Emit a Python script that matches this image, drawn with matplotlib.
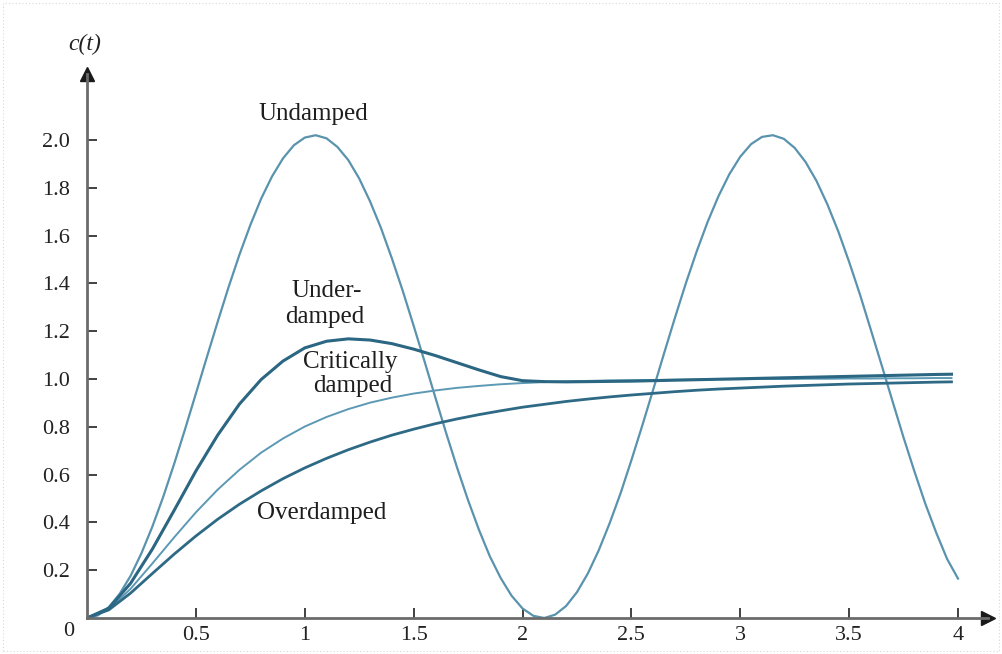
import numpy as np
import matplotlib
matplotlib.use("Agg")
import matplotlib.pyplot as plt
from matplotlib.patches import Rectangle

plt.rcParams["font.family"] = ["Liberation Serif", "DejaVu Serif"]

# time samples (s) for the damped curves
t = [0.0, 0.1, 0.2, 0.3, 0.4, 0.5, 0.6, 0.7, 0.8, 0.9,
     1.0, 1.1, 1.2, 1.3, 1.4, 1.5, 1.6, 1.7, 1.8, 1.9,
     2.0, 2.1, 2.2, 2.3, 2.4, 2.5, 2.6, 2.7, 2.8, 2.9,
     3.0, 3.1, 3.2, 3.3, 3.4, 3.5, 3.6, 3.7, 3.8, 3.9, 3.97]

# finer time samples for the undamped oscillation
t_fine = [0.0, 0.05, 0.1, 0.15, 0.2, 0.25, 0.3, 0.35, 0.4, 0.45,
          0.5, 0.55, 0.6, 0.65, 0.7, 0.75, 0.8, 0.85, 0.9, 0.95,
          1.0, 1.05, 1.1, 1.15, 1.2, 1.25, 1.3, 1.35, 1.4, 1.45,
          1.5, 1.55, 1.6, 1.65, 1.7, 1.75, 1.8, 1.85, 1.9, 1.95,
          2.0, 2.05, 2.1, 2.15, 2.2, 2.25, 2.3, 2.35, 2.4, 2.45,
          2.5, 2.55, 2.6, 2.65, 2.7, 2.75, 2.8, 2.85, 2.9, 2.95,
          3.0, 3.05, 3.1, 3.15, 3.2, 3.25, 3.3, 3.35, 3.4, 3.45,
          3.5, 3.55, 3.6, 3.65, 3.7, 3.75, 3.8, 3.85, 3.9, 3.95, 4.0]

undamped = [0.0, 0.011, 0.045, 0.101, 0.176, 0.271, 0.382, 0.507, 0.644, 0.789,
            0.939, 1.090, 1.239, 1.384, 1.520, 1.644, 1.755, 1.848, 1.923, 1.978,
            2.010, 2.020, 2.007, 1.971, 1.916, 1.839, 1.743, 1.632, 1.505, 1.369,
            1.223, 1.074, 0.922, 0.772, 0.628, 0.493, 0.369, 0.258, 0.167, 0.093,
            0.040, 0.009, 0.000, 0.014, 0.050, 0.108, 0.186, 0.283, 0.396, 0.521,
            0.660, 0.805, 0.955, 1.107, 1.256, 1.400, 1.534, 1.657, 1.765, 1.857,
            1.930, 1.983, 2.013, 2.020, 2.005, 1.967, 1.908, 1.829, 1.731, 1.618,
            1.490, 1.353, 1.205, 1.056, 0.905, 0.755, 0.613, 0.478, 0.357, 0.247, 0.165]

underdamped = [0.0, 0.041, 0.145, 0.288, 0.450, 0.615, 0.765, 0.895, 0.998, 1.075,
               1.130, 1.158, 1.168, 1.163, 1.148, 1.125, 1.098, 1.068, 1.038, 1.010,
               0.993, 0.989, 0.988, 0.989, 0.990, 0.991, 0.993, 0.995, 0.997, 0.999,
               1.001, 1.003, 1.005, 1.007, 1.009, 1.011, 1.013, 1.015, 1.017, 1.019, 1.020]

critically = [0.0, 0.037, 0.122, 0.228, 0.337, 0.442, 0.537, 0.620, 0.692, 0.751,
              0.801, 0.841, 0.874, 0.901, 0.922, 0.939, 0.952, 0.963, 0.971, 0.978,
              0.983, 0.987, 0.990, 0.992, 0.994, 0.995, 0.996, 0.997, 0.998, 0.999,
              0.999, 1.000, 1.000, 1.001, 1.001, 1.002, 1.002, 1.003, 1.003, 1.004, 1.004]

overdamped = [0.0, 0.034, 0.104, 0.186, 0.267, 0.343, 0.413, 0.476, 0.532, 0.583,
              0.628, 0.668, 0.704, 0.736, 0.765, 0.790, 0.813, 0.833, 0.851, 0.867,
              0.882, 0.894, 0.906, 0.916, 0.925, 0.933, 0.940, 0.947, 0.953, 0.958,
              0.962, 0.966, 0.970, 0.973, 0.976, 0.979, 0.981, 0.983, 0.985, 0.987, 0.988]

x_ticks = [0.5, 1, 1.5, 2, 2.5, 3, 3.5, 4]
x_labels = ["0.5", "1", "1.5", "2", "2.5", "3", "3.5", "4"]
y_ticks = [0.2, 0.4, 0.6, 0.8, 1.0, 1.2, 1.4, 1.6, 1.8, 2.0]
y_labels = ["0.2", "0.4", "0.6", "0.8", "1.0", "1.2", "1.4", "1.6", "1.8", "2.0"]

fig = plt.figure(figsize=(10.02, 6.54), dpi=100)
# 217.75 px per unit in x, 239 px per unit in y; origin at pixel (87, 618)
ax = fig.add_axes([87 / 1002, 36 / 654, 901 / 1002, 544 / 654])
ax.set_xlim(0, 901 / 217.75)
ax.set_ylim(0, 544 / 239)

ax.plot(t_fine, undamped, color="#5a93ad", lw=1.6)
ax.plot(t, critically, color="#5c99b4", lw=1.4)
ax.plot(t, overdamped, color="#2e6a86", lw=2.0)
ax.plot(t, underdamped, color="#2b6682", lw=2.2)

axis_col = "#6b6b6b"
for s in ["top", "right"]:
    ax.spines[s].set_visible(False)
for s in ["left", "bottom"]:
    ax.spines[s].set_color(axis_col)
    ax.spines[s].set_linewidth(2.0)
ax.plot(1, 0, ">", color="#1a1a1a", ms=10, transform=ax.get_yaxis_transform(), clip_on=False)
ax.plot(0, 1, "^", color="#1a1a1a", ms=10, transform=ax.get_xaxis_transform(), clip_on=False)

ax.set_xticks(x_ticks)
ax.set_xticklabels(x_labels)
ax.set_yticks(y_ticks)
ax.set_yticklabels(y_labels)
ax.tick_params(direction="in", length=7, width=1.3, color="#333333",
               labelsize=16, labelcolor="#222222")
ax.tick_params(axis="x", pad=6)
ax.tick_params(axis="y", pad=12)

txt = dict(fontsize=18, color="#1e1e1e", ha="center", va="center")
ax.text(-0.085, -0.055, "0", fontsize=16, color="#222222", ha="center", va="center", clip_on=False)
ax.text(-0.01, 2.40, "c(t)", fontsize=17, style="italic", color="#222222",
        ha="center", va="center", clip_on=False)
ax.text(1.04, 2.11, "Undamped", **txt)
ax.text(1.10, 1.37, "Under-", **txt)
ax.text(1.09, 1.26, "damped", **txt)
ax.text(1.21, 1.07, "Critically", **txt)
ax.text(1.22, 0.97, "damped", **txt)
ax.text(1.08, 0.44, "Overdamped", **txt)

fig.patches.append(Rectangle((0.003, 0.004), 0.994, 0.992, transform=fig.transFigure,
                             fill=False, ls=(0, (1, 2)), lw=0.8, ec="#d8d8d8"))

fig.savefig("out.png", dpi=100)
